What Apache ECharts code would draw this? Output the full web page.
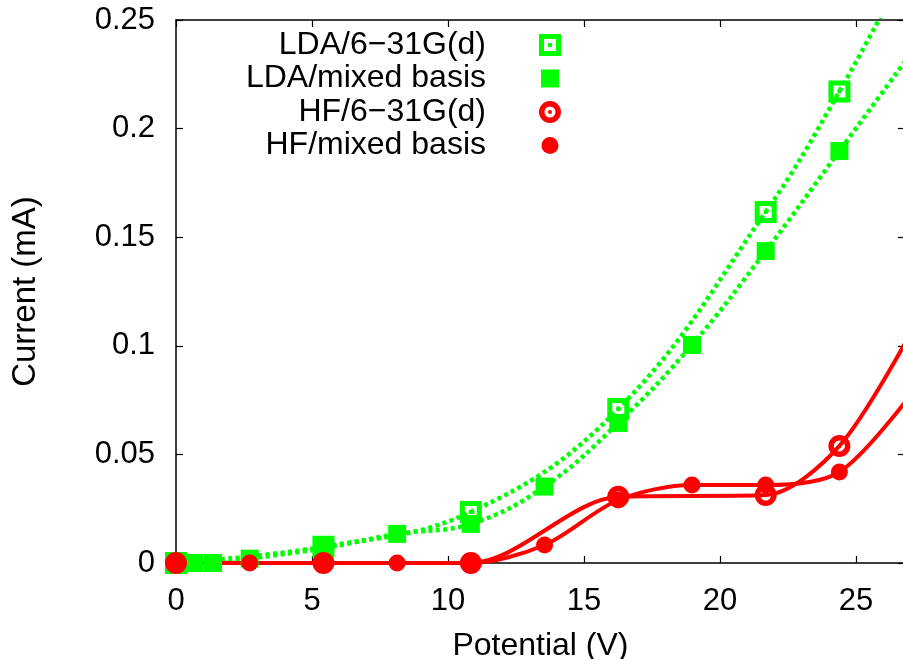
<!DOCTYPE html>
<html>
<head>
<meta charset="utf-8">
<script src="https://cdn.jsdelivr.net/npm/echarts@6/dist/echarts.min.js"></script>
<style>html,body{margin:0;padding:0;background:#fff}#c{width:903px;height:659px}</style>
</head>
<body>
<div id="c"></div>
<script>
// ---- data ----
const xTickValues = [0, 5, 10, 15, 20, 25];
const yTickValues = [0, 0.05, 0.1, 0.15, 0.2, 0.25];

const seriesNames = ['LDA/6\u221231G(d)', 'LDA/mixed basis', 'HF/6\u221231G(d)', 'HF/mixed basis'];

const ldaStoX = [0, 5.42, 10.84, 16.26, 21.68, 24.39, 27.10];
const ldaStoY = [0, 0.0075, 0.0235, 0.0709, 0.1616, 0.2171, 0.280];

const ldaMixX = [0, 0.68, 1.36, 2.71, 5.42, 8.13, 10.84, 13.55, 16.26, 18.97, 21.68, 24.39, 27.10];
const ldaMixY = [0, 0, 0, 0.002, 0.0068, 0.0134, 0.018, 0.0352, 0.0645, 0.1004, 0.1436, 0.1897, 0.236];

const hfStoX = [0, 5.42, 10.84, 16.26, 21.68, 24.39, 27.10];
const hfStoY = [0, 0, 0, 0.0305, 0.0313, 0.0539, 0.108];

const hfMixX = [0, 2.71, 5.42, 8.13, 10.84, 13.55, 16.26, 18.97, 21.68, 24.39, 27.10];
const hfMixY = [0, 0, 0, 0, 0, 0.0083, 0.029, 0.0359, 0.0359, 0.0419, 0.079];

// ---- styling ----
const GREEN = '#00ff00';
const RED = '#ff0000';
const FONT = 'Liberation Sans, Arial, Helvetica, sans-serif';

const openSquare = 'path://M0 0L22 0L22 22L0 22Z M5 5L5 17L17 17L17 5Z M9 9L13 9L13 13L9 13Z';
const ringDot = 'path://M0 11A11 11 0 1 1 22 11A11 11 0 1 1 0 11Z M5.5 11A5.5 5.5 0 1 0 16.5 11A5.5 5.5 0 1 0 5.5 11Z M9 11A2 2 0 1 1 13 11A2 2 0 1 1 9 11Z';
const legendFilledSquare = 'path://M0 0M22 22M2 2L20 2L20 20L2 20Z';
const legendFilledCircle = 'path://M0 0M22 22M2.5 11A8.5 8.5 0 1 1 19.5 11A8.5 8.5 0 1 1 2.5 11Z';

function pairs(xs, ys) { return xs.map((x, i) => [x, ys[i]]); }

const xMax = 26.8;

const chart = echarts.init(document.getElementById('c'), null, { renderer: 'canvas' });

const axisLineStyle = { show: true, onZero: false, lineStyle: { color: '#000', width: 1.5 } };
const tickStyle = { show: true, inside: true, length: 7, lineStyle: { color: '#000', width: 1.2 } };

const option = {
  animation: false,
  backgroundColor: '#fff',
  grid: { left: 176, top: 20, bottom: 96, right: 903 - (176 + xMax * 27.2), containLabel: false, outerBoundsMode: 'none' },
  legend: {
    data: [
      { name: seriesNames[0], icon: openSquare },
      { name: seriesNames[1], icon: legendFilledSquare },
      { name: seriesNames[2], icon: ringDot },
      { name: seriesNames[3], icon: legendFilledCircle }
    ],
    orient: 'vertical',
    align: 'right',
    right: 342,
    top: 29,
    padding: 0,
    itemWidth: 22,
    itemHeight: 22,
    itemGap: 1.5,
    selectedMode: false,
    textStyle: { fontFamily: FONT, fontSize: 32, color: '#000', lineHeight: 31, padding: [0, 48, 0, 0] }
  },
  xAxis: [
    {
      type: 'value', min: 0, max: xMax, interval: 5, position: 'bottom',
      name: 'Potential (V)', nameLocation: 'middle', nameGap: 67,
      nameTextStyle: { fontFamily: FONT, fontSize: 32, color: '#000' },
      axisLine: axisLineStyle, axisTick: tickStyle, splitLine: { show: false },
      axisLabel: {
        fontFamily: FONT, fontSize: 31, color: '#000', margin: 23, showMaxLabel: false,
        formatter: v => (xTickValues.indexOf(v) >= 0 ? String(v) : '')
      }
    },
    {
      type: 'value', min: 0, max: xMax, interval: 5, position: 'top',
      axisLine: axisLineStyle, axisTick: tickStyle, splitLine: { show: false }, axisLabel: { show: false }
    }
  ],
  yAxis: [
    {
      type: 'value', min: 0, max: 0.25, interval: 0.05, position: 'left',
      name: 'Current (mA)', nameLocation: 'middle', nameGap: 134, nameRotate: 90,
      nameTextStyle: { fontFamily: FONT, fontSize: 33, color: '#000' },
      axisLine: axisLineStyle, axisTick: tickStyle, splitLine: { show: false },
      axisLabel: {
        fontFamily: FONT, fontSize: 31, color: '#000', margin: 21,
        formatter: v => {
          const t = yTickValues.find(t => Math.abs(t - v) < 1e-9);
          return t === undefined ? '' : String(t);
        }
      }
    },
    {
      type: 'value', min: 0, max: 0.25, interval: 0.05, position: 'right',
      axisLine: axisLineStyle, axisTick: tickStyle, splitLine: { show: false }, axisLabel: { show: false }
    }
  ],
  series: [
    {
      name: seriesNames[0], type: 'line', data: pairs(ldaStoX, ldaStoY), smooth: 0.4,
      symbol: openSquare, symbolSize: 22, clip: true,
      itemStyle: { color: GREEN, borderWidth: 0 },
      lineStyle: { color: GREEN, width: 4.5, type: [4, 3.5], cap: 'butt' },
      emphasis: { disabled: true }
    },
    {
      name: seriesNames[1], type: 'line', data: pairs(ldaMixX, ldaMixY), smooth: 0.4,
      symbol: 'rect', symbolSize: 18, clip: true,
      itemStyle: { color: GREEN, borderWidth: 0 },
      lineStyle: { color: GREEN, width: 4.5, type: [4, 3.5], cap: 'butt' },
      emphasis: { disabled: true }
    },
    {
      name: seriesNames[2], type: 'line', data: pairs(hfStoX, hfStoY), smooth: 0.3,
      symbol: ringDot, symbolSize: 22, clip: true,
      itemStyle: { color: RED, borderWidth: 0 },
      lineStyle: { color: RED, width: 4 },
      emphasis: { disabled: true }
    },
    {
      name: seriesNames[3], type: 'line', data: pairs(hfMixX, hfMixY), smooth: 0.3,
      symbol: 'circle', symbolSize: 17, clip: true,
      itemStyle: { color: RED, borderWidth: 0 },
      lineStyle: { color: RED, width: 4 },
      emphasis: { disabled: true }
    }
  ]
};
chart.setOption(option);
</script>
</body>
</html>
